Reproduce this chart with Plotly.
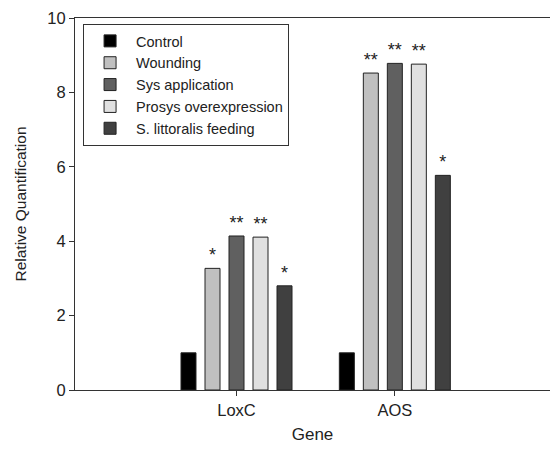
import plotly.graph_objects as go

genes = ["LoxC", "AOS"]
series = ["Control", "Wounding", "Sys application", "Prosys overexpression", "S. littoralis feeding"]
values = {
    "Control": [1.0, 1.0],
    "Wounding": [3.27, 8.52],
    "Sys application": [4.14, 8.78],
    "Prosys overexpression": [4.11, 8.76],
    "S. littoralis feeding": [2.80, 5.77],
}
signif = {
    "Control": ["", ""],
    "Wounding": ["*", "**"],
    "Sys application": ["**", "**"],
    "Prosys overexpression": ["**", "**"],
    "S. littoralis feeding": ["*", "*"],
}
colors = ["#000000", "#c0c0c0", "#606060", "#e0e0e0", "#404040"]

fig = go.Figure()
for name, col in zip(series, colors):
    fig.add_trace(go.Bar(
        x=genes, y=values[name], name=name,
        marker=dict(color=col, line=dict(color="#222222", width=1)),
        text=signif[name], textposition="outside", constraintext="none",
        textfont=dict(size=18, color="#222222", family="Liberation Sans, Arial"),
        cliponaxis=False,
    ))

fig.update_layout(
    width=550, height=454,
    margin=dict(l=75, r=0, t=18, b=64),
    paper_bgcolor="white", plot_bgcolor="white",
    barmode="group", bargap=0.242, bargroupgap=0.375,
    font=dict(family="Liberation Sans, Arial", size=15, color="#222222"),
    showlegend=True,
    legend=dict(
        x=0.017, y=0.984, xanchor="left", yanchor="top",
        bordercolor="#333333", borderwidth=1, bgcolor="white",
        font=dict(size=14.5, color="#222222"),
        tracegroupgap=0, itemwidth=42,
    ),
    xaxis=dict(
        range=[-1.02, 1.98], showline=True, linecolor="#333333", linewidth=1,
        mirror=True, ticks="outside", ticklen=5, tickcolor="#333333",
        showgrid=False, zeroline=False,
        title=dict(text="Gene", font=dict(size=17), standoff=10),
        tickfont=dict(size=16.5),
    ),
    yaxis=dict(
        range=[0, 10], dtick=2, showline=True, linecolor="#333333", linewidth=1,
        ticks="outside", ticklen=5, tickcolor="#333333",
        showgrid=False, zeroline=False,
        title=dict(text="Relative Quantification", font=dict(size=15.5), standoff=16),
        tickfont=dict(size=16.5),
    ),
)

fig.write_html("out.html", config={"displayModeBar": False},
               post_script="document.body.style.margin='0';document.body.style.overflow='hidden';")
